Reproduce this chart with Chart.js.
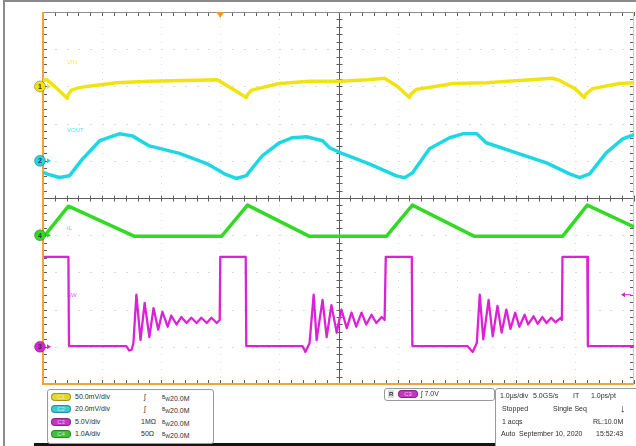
<!DOCTYPE html>
<html lang="en">
<head>
<meta charset="UTF-8">
<title>Buck converter scope capture</title>
<script src="https://cdn.jsdelivr.net/npm/chart.js"></script>
<style>
  body { margin: 0; background: #fff; font-family: "Liberation Sans", Arial, sans-serif; }
  #wrap { position: relative; width: 636px; height: 446px; overflow: hidden; }
  #scope { position: absolute; left: 0; top: 0; }
  .frame { position: absolute; left: 3px; top: 0; right: -2px; bottom: -2px; border-top: 2px solid #8a8a8a; border-left: 2px solid #8a8a8a; }
  .bar { position: absolute; left: 34px; top: 443px; width: 463px; height: 3px; background: #151515; }
  .box { position: absolute; background: #fff; border: 1px solid #9a9a9a; border-radius: 3px; font-size: 7px; color: #2c2c2c; }
  .box span { position: absolute; white-space: nowrap; line-height: 8px; }
  .pill { width: 20px; height: 8px; border-radius: 4px; text-align: center; font-size: 6px; color: rgba(255,255,255,0.7); box-shadow: inset 0 0 0 1px rgba(0,0,0,0.3); }
</style>
</head>
<body>
<div id="wrap">
  <canvas id="scope" width="636" height="446"></canvas>
  <div class="frame"></div>
  <div class="bar"></div>
  <div class="box" id="chans" style="left:47px; top:389px; width:165px; height:53px;"></div>
  <div class="box" id="trig" style="left:384px; top:388px; width:109px; height:11px;"></div>
  <div class="box" id="acq" style="left:495px; top:388px; width:145px; height:62px;"></div>
</div>

<script>
// time axis in µs, 1 µs/div, trigger at -2 µs from center
// CH1 VIN (mV, AC ripple)
const vinT  = [-5.0, -4.94, -4.80, -4.59, -4.57, -4.52, -4.40, -4.26, -3.76, -3.20, -2.60, -2.05, -1.80, -1.56, -1.53, -1.47, -1.00, -0.49, 0.02, 0.50, 0.78, 1.00, 1.20, 1.23, 1.32, 1.71, 1.93, 2.50, 3.06, 3.62, 3.74, 4.00, 4.16, 4.19, 4.30, 4.75, 5.0];
const vinMv = [8, 9, 0, -16, -11, -5, -2, 0, 5, 7, 8, 9, -3, -15, -10, -5, 4, 7, 7, 9, 11, 0, -15, -10, -4, 1, 4, 5, 8, 11, 8, -3, -15, -10, -3, 4, 5];

// CH2 VOUT (mV, AC ripple)
const voutT  = [-4.97, -4.94, -4.72, -4.55, -4.33, -4.04, -3.71, -3.49, -3.20, -2.69, -2.23, -1.93, -1.73, -1.56, -1.29, -1.00, -0.78, -0.54, -0.27, -0.15, 0.07, 0.52, 0.98, 1.12, 1.25, 1.54, 1.88, 2.10, 2.34, 2.50, 3.01, 3.52, 3.91, 4.08, 4.25, 4.53, 4.81, 5.0];
const voutMv = [-6.5, -7, -9, -8, 1, 10.8, 14.5, 13.4, 8, 4, -1.5, -7, -9.5, -8, 2.7, 9.7, 12.4, 12.9, 10.8, 7, 3.8, -1.6, -8.1, -9.1, -6.5, 6.5, 12.4, 14.5, 14.5, 9.7, 4.3, -1.1, -7, -9.1, -7, 4.3, 11.8, 14];

// CH3 SW node (V)
const swT = [-4.97, -4.57, -4.56, -3.59, -3.54, -3.50, -3.47, -3.42, -3.35, -3.28, -3.20, -3.13, -3.05, -2.98, -2.89, -2.83, -2.74, -2.66, -2.57, -2.49,
  -2.40, -2.32, -2.23, -2.15, -2.06, -2.01, -2.00, -1.57, -1.56, -0.61, -0.56, -0.49, -0.42, -0.37, -0.27, -0.20, -0.12, -0.03, 0.05, 0.14,
  0.22, 0.30, 0.39, 0.47, 0.56, 0.64, 0.73, 0.78, 0.80, 1.24, 1.25, 2.18, 2.27, 2.34, 2.39, 2.45, 2.54, 2.61, 2.69, 2.76,
  2.84, 2.91, 2.99, 3.06, 3.15, 3.21, 3.30, 3.37, 3.45, 3.52, 3.60, 3.67, 3.76, 3.78, 3.79, 4.21, 4.22, 5.0];
const swV = [12.1, 12.1, 0.1, 0.1, -0.5, -0.4, 0.5, 7.0, 0.9, 5.9, 1.3, 5.2, 2.3, 4.7, 2.7, 4.2, 3.0, 4.0, 3.2, 3.9,
  3.2, 3.9, 3.2, 3.9, 3.2, 3.6, 12.1, 12.1, 0.1, 0.1, -0.7, 0.5, 7.0, 0.9, 6.3, 1.3, 5.6, 1.9, 5.0, 2.5,
  4.6, 2.7, 4.6, 3.0, 4.3, 3.2, 4.0, 3.6, 12.1, 12.1, 0.1, 0.1, -0.7, 0.5, 7.0, 1.0, 6.3, 1.4, 5.5, 1.9,
  5.0, 2.4, 4.6, 2.7, 4.3, 3.0, 4.1, 3.1, 4.0, 3.2, 3.9, 3.3, 3.9, 3.6, 12.1, 12.1, 0.1, 0.1];

// CH4 inductor current (A)
const ilT = [-4.97, -4.94, -4.57, -3.45, -1.98, -1.54, -0.49, 0.81, 1.25, 2.30, 3.79, 4.21, 5.0];
const ilA = [0.0, 0.05, 0.78, -0.03, -0.03, 0.81, -0.03, -0.03, 0.81, -0.03, -0.03, 0.81, 0.22];

// channel setup: volts per div and ground marker position (div from center)
const chNames   = ['C1', 'C2', 'C3', 'C4'];
const chLabels  = ['VIN', 'VOUT', 'SW', 'IL'];
const chScale   = [50, 20, 5, 1];
const chOffset  = [3, 1, -4, -1];
const chColors  = ['#f1e312', '#1fd6e4', '#dc22d6', '#34d925'];
const chBadge   = ['#e2d631', '#3fc9d6', '#c236c4', '#3ec23a'];
const chScaleTxt = ['50.0mV/div', '20.0mV/div', '5.0V/div', '1.0A/div'];
const chCouple  = ['ʃ', 'ʃ', '1MΩ', '50Ω'];
const chBw      = ['20.0M', '20.0M', '20.0M', '20.0M'];
const trigTime  = -2;
const trigLevel = 7.0;

function toDiv(ts, vs, ch) {
  return ts.map((t, i) => ({ x: t, y: chOffset[ch] + vs[i] / chScale[ch] }));
}

const graticule = {
  id: 'graticule',
  beforeDatasetsDraw(chart) {
    const { ctx, chartArea: a, scales: { x, y } } = chart;
    ctx.save();
    // dotted division lines
    ctx.fillStyle = '#dadada';
    for (let d = -4; d <= 4; d++) {
      if (d === 0) continue;
      const px = Math.round(x.getPixelForValue(d));
      const py = Math.round(y.getPixelForValue(d));
      for (let m = -24; m <= 24; m++) {
        ctx.fillRect(px, Math.round(y.getPixelForValue(m / 5)), 1, 1);
        ctx.fillRect(Math.round(x.getPixelForValue(m / 5)), py, 2, 1);
      }
    }
    // center cross and edge ticks
    const cx = Math.round(x.getPixelForValue(0)) + 0.5;
    const cy = Math.round(y.getPixelForValue(0)) + 0.5;
    ctx.strokeStyle = '#5c5c5c';
    ctx.lineWidth = 1;
    ctx.beginPath();
    ctx.moveTo(cx, a.top); ctx.lineTo(cx, a.bottom);
    ctx.moveTo(a.left, cy); ctx.lineTo(a.right, cy);
    for (let m = -25; m <= 25; m++) {
      const ty = Math.round(y.getPixelForValue(m / 5)) + 0.5;
      ctx.moveTo(cx - 3, ty); ctx.lineTo(cx + 3, ty);
      ctx.moveTo(a.left, ty); ctx.lineTo(a.left + 4, ty);
      ctx.moveTo(a.right - 4, ty); ctx.lineTo(a.right, ty);
      const tx = Math.round(x.getPixelForValue(m / 5)) + 0.5;
      ctx.moveTo(tx, cy - 3); ctx.lineTo(tx, cy + 3);
      ctx.moveTo(tx, a.top); ctx.lineTo(tx, a.top + 4);
      ctx.moveTo(tx, a.bottom - 4); ctx.lineTo(tx, a.bottom);
    }
    ctx.stroke();
    // frame
    ctx.strokeStyle = '#8e8e8e';
    ctx.beginPath(); ctx.moveTo(a.left, a.top + 0.5); ctx.lineTo(a.right, a.top + 0.5); ctx.stroke();
    ctx.strokeStyle = '#e6c89a';
    ctx.beginPath(); ctx.moveTo(a.right - 0.5, a.top); ctx.lineTo(a.right - 0.5, a.bottom); ctx.stroke();
    ctx.strokeStyle = '#f0a436';
    ctx.lineWidth = 2;
    ctx.beginPath();
    ctx.moveTo(a.left, a.top); ctx.lineTo(a.left, a.bottom);
    ctx.lineTo(a.right, a.bottom);
    ctx.stroke();
    ctx.restore();
  },
  afterDatasetsDraw(chart) {
    const { ctx, chartArea: a, scales: { x, y } } = chart;
    ctx.save();
    // channel labels inside the graticule
    ctx.font = '6px "Liberation Sans", Arial, sans-serif';
    ctx.textBaseline = 'middle';
    const labelDy = [-24, -30, -51, -7];
    chLabels.forEach((lab, i) => {
      ctx.fillStyle = chColors[i];
      ctx.globalAlpha = 0.75;
      ctx.fillText(lab, a.left + 24, y.getPixelForValue(chOffset[i]) + labelDy[i]);
    });
    ctx.globalAlpha = 1;
    // ground markers
    chOffset.forEach((off, i) => {
      const py = y.getPixelForValue(off);
      ctx.fillStyle = chColors[i];
      ctx.beginPath(); ctx.arc(a.left - 3, py, 5.5, 0, Math.PI * 2); ctx.fill();
      ctx.strokeStyle = 'rgba(0,0,0,0.35)'; ctx.lineWidth = 0.8; ctx.stroke();
      ctx.beginPath();
      ctx.moveTo(a.left + 4, py - 2.5); ctx.lineTo(a.left + 8, py); ctx.lineTo(a.left + 4, py + 2.5);
      ctx.closePath(); ctx.fill();
      ctx.fillStyle = '#333';
      ctx.font = 'bold 7px "Liberation Sans", Arial, sans-serif';
      ctx.textAlign = 'center';
      ctx.fillText(String(i + 1), a.left - 3, py + 0.5);
      ctx.textAlign = 'left';
    });
    // trigger position marker
    const tx = x.getPixelForValue(trigTime);
    ctx.fillStyle = '#f09a1e';
    ctx.beginPath(); ctx.moveTo(tx - 4, a.top); ctx.lineTo(tx + 4, a.top); ctx.lineTo(tx, a.top + 6); ctx.closePath(); ctx.fill();
    // trigger level marker on CH3
    const ly = y.getPixelForValue(chOffset[2] + trigLevel / chScale[2]);
    ctx.strokeStyle = chColors[2]; ctx.fillStyle = chColors[2]; ctx.lineWidth = 1;
    ctx.beginPath(); ctx.moveTo(a.right - 3, ly); ctx.lineTo(a.right - 11, ly); ctx.stroke();
    ctx.beginPath(); ctx.moveTo(a.right - 13, ly); ctx.lineTo(a.right - 9, ly - 2.5); ctx.lineTo(a.right - 9, ly + 2.5); ctx.closePath(); ctx.fill();
    ctx.restore();
  }
};

const lineDs = (data, i, w) => ({
  data, borderColor: chColors[i], borderWidth: w, pointRadius: 0, tension: 0,
  borderJoinStyle: 'round', borderCapStyle: 'round'
});

new Chart(document.getElementById('scope'), {
  type: 'line',
  data: {
    datasets: [
      lineDs(toDiv(ilT, ilA, 3), 3, 3.5),
      lineDs(toDiv(swT, swV, 2), 2, 2.3),
      lineDs(toDiv(voutT, voutMv, 1), 1, 3.5),
      lineDs(toDiv(vinT, vinMv, 0), 0, 3.5)
    ]
  },
  options: {
    responsive: false,
    animation: false,
    layout: { padding: { left: 43, top: 12, right: 2, bottom: 62 } },
    plugins: { legend: { display: false }, tooltip: { enabled: false } },
    scales: {
      x: { type: 'linear', min: -5, max: 5, display: false },
      y: { type: 'linear', min: -5, max: 5, display: false }
    }
  },
  plugins: [graticule]
});

// bottom info panels
function put(box, text, left, top, cls, extra) {
  const s = document.createElement('span');
  s.textContent = text;
  s.style.left = left + 'px';
  s.style.top = top + 'px';
  if (cls) s.className = cls;
  if (extra) Object.assign(s.style, extra);
  box.appendChild(s);
  return s;
}

const chans = document.getElementById('chans');
chNames.forEach((n, i) => {
  const top = 3 + i * 12.3;
  put(chans, n, 3, top, 'pill', { background: chBadge[i] });
  put(chans, chScaleTxt[i], 27, top);
  put(chans, chCouple[i], i < 2 ? 96 : 93, top);
  const bw = put(chans, '', 114, top);
  bw.innerHTML = '<span style="position:static;font-size:5px;vertical-align:2px">B</span><span style="position:static;font-size:5px">W</span>' + chBw[i];
});

const trig = document.getElementById('trig');
put(trig, 'R', 3, 1, null, { fontWeight: 'bold', fontSize: '6px', background: '#ddd', padding: '0 1px' });
put(trig, 'C3', 13, 1, 'pill', { background: chBadge[2] });
put(trig, 'ʃ 7.0V', 36, 1);

const acq = document.getElementById('acq');
put(acq, '1.0µs/div', 4, 3);
put(acq, '5.0GS/s', 37, 3);
put(acq, 'IT', 77, 3);
put(acq, '1.0ps/pt', 95, 3);
put(acq, 'Stopped', 6, 16);
put(acq, 'Single Seq', 57, 16);
put(acq, '↓', 124, 14, null, { fontWeight: 'bold', fontSize: '11px', lineHeight: '11px' });
put(acq, '1 acqs', 6, 29);
put(acq, 'RL:10.0M', 97, 29);
put(acq, 'Auto', 5, 41);
put(acq, 'September 10, 2020', 23, 41);
put(acq, '15:52:43', 100, 41);
</script>
</body>
</html>
